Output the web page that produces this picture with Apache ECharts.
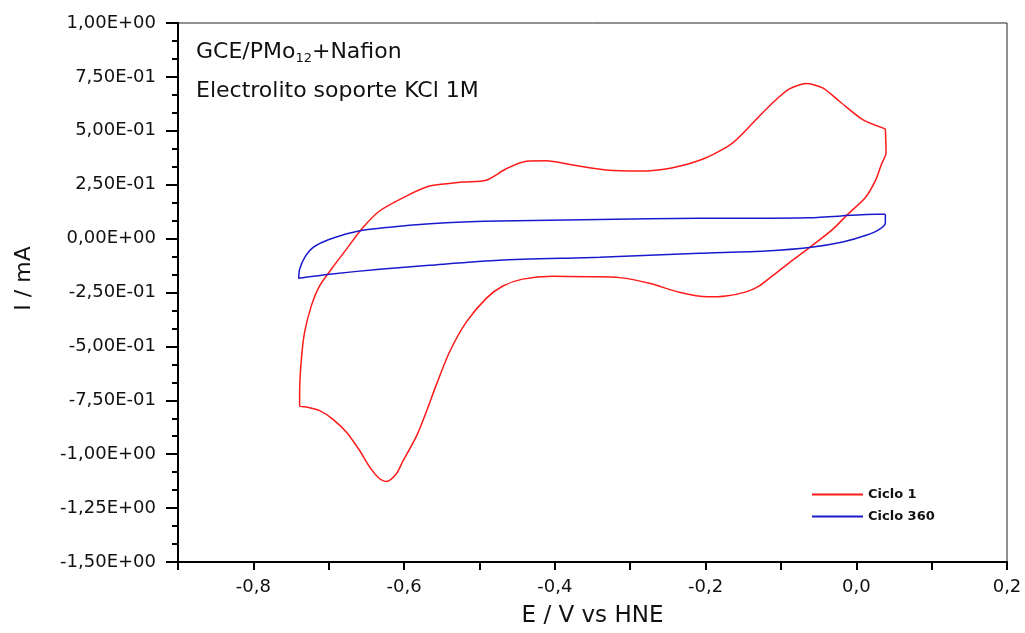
<!DOCTYPE html>
<html>
<head>
<meta charset="utf-8">
<title>Voltametría cíclica GCE/PMo12+Nafion</title>
<script src="https://cdn.jsdelivr.net/npm/echarts@6/dist/echarts.min.js"></script>
<style>
  html, body { margin: 0; padding: 0; background: #ffffff; }
  #chart { width: 1025px; height: 633px; }
</style>
</head>
<body>
<div id="chart"></div>
<script>
// Potential E (V vs HNE) and current I (mA), traced around each closed cycle
const ciclo1E = [0.0386, 0.0395, 0.0333, 0.0262, 0.0121, -0.0114, -0.0313, -0.0622, -0.0887, -0.1113,
  -0.1285, -0.1462, -0.1727, -0.1975, -0.2348, -0.2745, -0.3142, -0.354, -0.403, -0.4429,
  -0.4695, -0.4907, -0.5175, -0.5397, -0.5569, -0.5706, -0.5834, -0.602, -0.6103, -0.6232,
  -0.6325, -0.6458, -0.659, -0.6767, -0.6948, -0.7121, -0.7297, -0.7386, -0.7386, -0.7363,
  -0.732, -0.7231, -0.7121, -0.6966, -0.6767, -0.6546, -0.6325, -0.5971, -0.5662, -0.522,
  -0.491, -0.4645, -0.4379, -0.4114, -0.3761, -0.3318, -0.2877, -0.2435, -0.1992, -0.1639,
  -0.1329, -0.1109, -0.0887, -0.0666, -0.0446, -0.0224, 0.0085, 0.0386];
const ciclo1I = [0.509, 0.398, 0.344, 0.275, 0.191, 0.1125, 0.043, -0.0417, -0.111, -0.173,
  -0.219, -0.247, -0.266, -0.270, -0.249, -0.207, -0.181, -0.177, -0.1745, -0.188,
  -0.221, -0.276, -0.3875, -0.526, -0.675, -0.804, -0.915, -1.035, -1.091, -1.127,
  -1.114, -1.059, -0.983, -0.897, -0.837, -0.798, -0.781, -0.775, -0.712, -0.559,
  -0.434, -0.312, -0.219, -0.142, -0.050, 0.051, 0.128, 0.197, 0.2435, 0.262,
  0.271, 0.324, 0.359, 0.361, 0.341, 0.318, 0.313, 0.329, 0.375, 0.444,
  0.552, 0.630, 0.694, 0.719, 0.699, 0.637, 0.552, 0.509];

const ciclo360E = [0.0386, 0.0386, 0.0306, 0.013, -0.018, -0.0622, -0.1196, -0.2081, -0.3407, -0.4734,
  -0.5662, -0.6325, -0.6988, -0.7399, -0.7386, -0.732, -0.721, -0.6988, -0.6568, -0.5887,
  -0.544, -0.4734, -0.3407, -0.2081, -0.0622, 0.0262, 0.0386];
const ciclo360I = [0.1125, 0.074, 0.043, 0.0153, -0.0157, -0.0417, -0.0574, -0.068, -0.0866, -0.1005,
  -0.1236, -0.142, -0.1653, -0.1838, -0.142, -0.088, -0.0417, -0.003, 0.038, 0.063,
  0.074, 0.0815, 0.089, 0.094, 0.097, 0.1125, 0.1125];

const seriesNames = ['Ciclo 1', 'Ciclo 360'];

// axis extents
const E_MIN = -0.9, E_MAX = 0.2;
const I_MIN = -1.5, I_MAX = 1.0;

const FONT = '"DejaVu Sans", "Liberation Sans", Arial, sans-serif';
const INK = '#111111';

function pairs(xs, ys) {
  return xs.map((x, i) => [x, ys[i]]);
}

// "7,50E-01" style scientific labels with a decimal comma
function sciLabel(v) {
  v = Math.round(v * 1000) / 1000;
  if (v === 0) return '0,00E+00';
  let e = Math.floor(Math.log10(Math.abs(v)));
  let m = Math.round(v / Math.pow(10, e) * 100) / 100;
  if (Math.abs(m) >= 10) { m /= 10; e += 1; }
  const exp = (e < 0 ? '-' : '+') + String(Math.abs(e)).padStart(2, '0');
  return m.toFixed(2).replace('.', ',') + 'E' + exp;
}

// only every second 0.1 step carries a label: -0,8 -0,6 ... 0,2
function decLabel(v) {
  const tenths = Math.round(v * 10);
  if (tenths % 2 !== 0) return '';
  const s = (tenths / 10).toFixed(1).replace('.', ',');
  return s === '-0,0' ? '0,0' : s;
}

const chart = echarts.init(document.getElementById('chart'), null, { renderer: 'canvas' });

chart.setOption({
  backgroundColor: '#ffffff',
  animation: false,
  textStyle: { fontFamily: FONT, color: INK },
  grid: {
    left: 178, right: 18, top: 23, bottom: 69,
    show: true, borderColor: '#222222', borderWidth: 1, backgroundColor: 'transparent'
  },
  legend: {
    data: seriesNames,
    orient: 'vertical',
    left: 812, top: 488,
    padding: 0,
    icon: 'rect',
    itemWidth: 51, itemHeight: 2, itemGap: 9,
    textStyle: { fontFamily: FONT, fontWeight: 'bold', fontSize: 13, color: INK }
  },
  graphic: [
    {
      type: 'text', left: 196, top: 41, silent: true,
      style: {
        text: '{a|GCE/PMo}{s|12}{a|+Nafion}',
        rich: {
          a: { fontFamily: FONT, fontSize: 22, lineHeight: 26, fill: INK },
          s: { fontFamily: FONT, fontSize: 13, lineHeight: 11, verticalAlign: 'bottom', fill: INK }
        }
      }
    },
    {
      type: 'text', left: 196, top: 80, silent: true,
      style: { text: 'Electrolito soporte KCl 1M', fontFamily: FONT, fontSize: 22, fill: INK }
    }
  ],
  xAxis: {
    type: 'value', min: E_MIN, max: E_MAX, interval: 0.1,
    position: 'bottom',
    name: 'E / V vs HNE', nameLocation: 'middle', nameGap: 43,
    nameTextStyle: { fontFamily: FONT, fontSize: 23, color: INK },
    axisLine: { show: true, onZero: false, lineStyle: { color: '#000', width: 2 } },
    axisTick: { show: true, inside: false, length: 8, lineStyle: { color: '#000', width: 2 } },
    axisLabel: { show: true, margin: 16, formatter: decLabel, showMinLabel: true, showMaxLabel: true,
      fontFamily: FONT, fontSize: 18, color: INK },
    splitLine: { show: false }
  },
  yAxis: {
    type: 'value', min: I_MIN, max: I_MAX, interval: 0.25,
    position: 'left',
    name: 'I / mA', nameLocation: 'middle', nameGap: 143,
    nameTextStyle: { fontFamily: FONT, fontSize: 22, color: INK, padding: [0, 0, 0, 28] },
    axisLine: { show: true, onZero: false, lineStyle: { color: '#000', width: 2 } },
    axisTick: { show: true, inside: false, length: 12, lineStyle: { color: '#000', width: 2 } },
    minorTick: { show: true, splitNumber: 3, length: 6, lineStyle: { color: '#000', width: 2 } },
    axisLabel: { margin: 22, formatter: sciLabel, fontFamily: FONT, fontSize: 18, color: INK },
    splitLine: { show: false },
    minorSplitLine: { show: false }
  },
  series: [
    {
      name: seriesNames[0], type: 'line',
      data: pairs(ciclo1E, ciclo1I),
      symbol: 'none', smooth: 0.25, clip: true,
      lineStyle: { color: '#ff1a1a', width: 1.5 },
      itemStyle: { color: '#ff1a1a' }
    },
    {
      name: seriesNames[1], type: 'line',
      data: pairs(ciclo360E, ciclo360I),
      symbol: 'none', smooth: 0.25, clip: true,
      lineStyle: { color: '#1a1acc', width: 1.5 },
      itemStyle: { color: '#1a1acc' }
    }
  ]
});
</script>
</body>
</html>
